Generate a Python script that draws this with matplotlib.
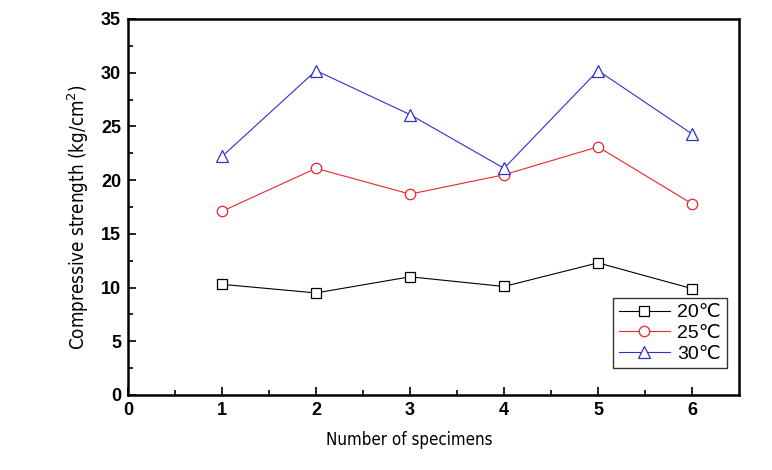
import matplotlib.pyplot as plt
import numpy as np

specimens = [1, 2, 3, 4, 5, 6]
s20 = [10.3, 9.5, 11.0, 10.1, 12.3, 9.9]
s25 = [17.1, 21.1, 18.7, 20.5, 23.1, 17.8]
s30 = [22.2, 30.2, 26.1, 21.1, 30.2, 24.3]
labels = ['20\u2103', '25\u2103', '30\u2103']

fig = plt.figure(figsize=(7.72, 4.70), dpi=100)
ax = fig.add_axes([0.1658, 0.1596, 0.7915, 0.80])

ax.plot(specimens, s20, color='black', lw=0.8, marker='s', ms=6.5,
        mfc='white', mec='black', mew=0.9, label=labels[0])
ax.plot(specimens, s25, color='#e8262b', lw=0.8, marker='o', ms=7.5,
        mfc='white', mec='#e8262b', mew=0.9, label=labels[1])
ax.plot(specimens, s30, color='#3030d0', lw=0.8, marker='^', ms=8.5,
        mfc='white', mec='#3030d0', mew=0.9, label=labels[2])

ax.set_xlim(0, 6.5)
ax.set_ylim(0, 35)
ax.set_xticks(np.arange(0, 7, 1))
ax.set_xticks(np.arange(0.5, 6.5, 1), minor=True)
ax.set_yticks(np.arange(0, 36, 5))
ax.set_yticks(np.arange(2.5, 35, 5), minor=True)
ax.tick_params(which='both', direction='in', width=1.2)
ax.tick_params(which='major', length=6, pad=5)
ax.tick_params(which='minor', length=3.5)
for lab in ax.get_xticklabels() + ax.get_yticklabels():
    lab.set_fontfamily('Liberation Sans')
    lab.set_fontweight('bold')
    lab.set_fontsize(13)
for sp in ax.spines.values():
    sp.set_linewidth(1.8)

ax.set_xlabel('Number of specimens', family='DejaVu Sans', fontsize=12.2,
              fontstretch='condensed')
ax.set_ylabel('Compressive strength (kg/cm$^2$)', family='DejaVu Sans', fontsize=13.5,
              fontstretch='condensed')
ax.xaxis.set_label_coords(0.46, -0.095)
ax.yaxis.set_label_coords(-0.06, 0.473)

leg = ax.legend(loc='lower right', bbox_to_anchor=(0.996, 0.045), frameon=True,
                fancybox=False, edgecolor='black', handlelength=2.6,
                borderpad=0.3, labelspacing=0.15, handletextpad=0.4,
                prop={'family': ['Liberation Sans', 'DejaVu Sans'], 'size': 14})
leg.get_frame().set_linewidth(1.0)

fig.savefig('out.png', dpi=100)
